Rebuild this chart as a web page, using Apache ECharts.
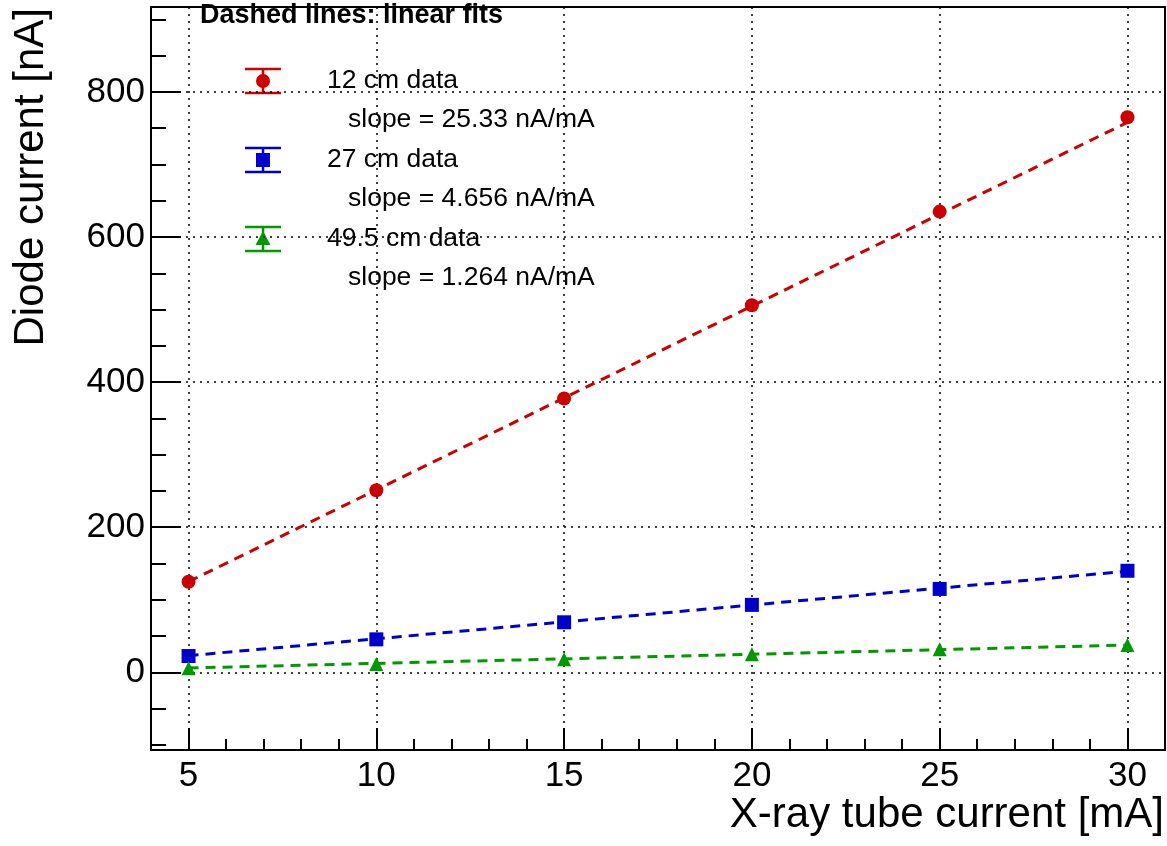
<!DOCTYPE html>
<html>
<head>
<meta charset="utf-8">
<script src="https://cdn.jsdelivr.net/npm/echarts@6/dist/echarts.min.js"></script>
<style>
html,body{margin:0;padding:0;background:#fff;}
#chart{width:1167px;height:846px;}
</style>
</head>
<body>
<div id="chart"></div>
<script>
// ---- data ----
const xValues = [5, 10, 15, 20, 25, 30];
const data12cm = [124.8, 251, 377.5, 506, 635, 765];
const data27cm = [22.5, 45.5, 69, 93, 115, 140];
const data49cm = [5.5, 11.4, 18, 25, 31.7, 37.6];
const fitX = [5, 30];
const fit12cm = [125, 758];
const fit27cm = [23, 139.4];
const fit49cm = [6, 37.6];
const xMajorTicks = [5, 10, 15, 20, 25, 30];
const xMinorTicks = [6, 7, 8, 9, 11, 12, 13, 14, 16, 17, 18, 19, 21, 22, 23, 24, 26, 27, 28, 29];
const yMajorTicks = [0, 200, 400, 600, 800];
const yMinorTicks = [-100, -50, 50, 100, 150, 250, 300, 350, 450, 500, 550, 650, 700, 750, 850, 900];
const legendLabels = ['12 cm data', '27 cm data', '49.5 cm data'];
const slopeLabels = ['slope = 25.33 nA/mA', 'slope = 4.656 nA/mA', 'slope = 1.264 nA/mA'];
const legendTitle = 'Dashed lines: linear fits';
const xTitle = 'X-ray tube current [mA]';
const yTitle = 'Diode current [nA]';

const colors = ['#cc0000', '#0000cc', '#009900'];
const symbols = ['circle', 'rect', 'triangle'];
const FONT = '"Liberation Sans", Arial, Helvetica, sans-serif';

const XMIN = 4, XMAX = 31, YMIN = -107, YMAX = 917;

const chart = echarts.init(document.getElementById('chart'), null, {renderer: 'canvas'});

function pairs(xs, ys) { return xs.map((x, i) => [x, ys[i]]); }

const dataSets = [data12cm, data27cm, data49cm];
const fitSets = [fit12cm, fit27cm, fit49cm];

const series = [];
fitSets.forEach((f, i) => {
  series.push({
    type: 'line', xAxisIndex: 0, yAxisIndex: 0,
    data: pairs(fitX, f), showSymbol: false, symbol: 'none',
    lineStyle: {color: colors[i], width: 3, type: [10, 7]},
    silent: true, animation: false, z: 3
  });
});
dataSets.forEach((d, i) => {
  series.push({
    type: 'scatter', xAxisIndex: 0, yAxisIndex: 0,
    data: pairs(xValues, d), symbol: symbols[i], symbolSize: 14,
    itemStyle: {color: colors[i], opacity: 1},
    silent: true, animation: false, z: 4
  });
});

// legend graphics
const legendCenters = [81, 160, 239];
const slopeCenters = [120, 199, 278];
const graphics = [];
graphics.push({type: 'text', x: 200, y: 16, style: {text: legendTitle, font: 'bold 27px ' + FONT, fill: '#000', verticalAlign: 'middle'}});
legendCenters.forEach((cy, i) => {
  const cx = 263, half = 18, eh = 12;
  const ls = {stroke: colors[i], lineWidth: 2.5};
  graphics.push({type: 'line', shape: {x1: cx - half, y1: cy - eh, x2: cx + half, y2: cy - eh}, style: ls});
  graphics.push({type: 'line', shape: {x1: cx - half, y1: cy + eh, x2: cx + half, y2: cy + eh}, style: ls});
  graphics.push({type: 'line', shape: {x1: cx, y1: cy - eh, x2: cx, y2: cy + eh}, style: ls});
  if (symbols[i] === 'circle') {
    graphics.push({type: 'circle', shape: {cx: cx, cy: cy, r: 7}, style: {fill: colors[i]}});
  } else if (symbols[i] === 'rect') {
    graphics.push({type: 'rect', shape: {x: cx - 7, y: cy - 7, width: 14, height: 14}, style: {fill: colors[i]}});
  } else {
    graphics.push({type: 'polygon', shape: {points: [[cx, cy - 8], [cx + 7.5, cy + 6], [cx - 7.5, cy + 6]]}, style: {fill: colors[i]}});
  }
  graphics.push({type: 'text', x: 327, y: cy, style: {text: legendLabels[i], font: '26.5px ' + FONT, fill: '#000', verticalAlign: 'middle', align: 'left'}});
  graphics.push({type: 'text', x: 348, y: slopeCenters[i], style: {text: slopeLabels[i], font: '26.5px ' + FONT, fill: '#000', verticalAlign: 'middle', align: 'left'}});
});
graphics.push({type: 'text', x: 1164, y: 815, style: {text: xTitle, font: '42px ' + FONT, fill: '#000', align: 'right', verticalAlign: 'middle'}});
graphics.push({type: 'text', x: 31, y: 8, rotation: Math.PI / 2, style: {text: yTitle, font: '42px ' + FONT, fill: '#000', align: 'right', verticalAlign: 'middle'}});

const gridLine = {show: true, lineStyle: {color: '#000', width: 1.5, type: [2, 5]}};

const option = {
  backgroundColor: '#fff',
  animation: false,
  grid: {left: 151, right: 2, top: 7, bottom: 96, show: true, borderColor: '#000', borderWidth: 2, backgroundColor: 'transparent', outerBoundsMode: 'none', containLabel: false},
  xAxis: [
    {type: 'value', min: XMIN, max: XMAX, position: 'bottom', gridIndex: 0,
     axisLine: {show: true, onZero: false, lineStyle: {color: '#000', width: 2}},
     axisTick: {show: true, inside: true, length: 22, customValues: xMajorTicks, lineStyle: {color: '#000', width: 2}},
     axisLabel: {show: true, customValues: xMajorTicks, margin: 9, fontSize: 35, fontFamily: FONT, color: '#000'},
     splitLine: gridLine},
    {type: 'value', min: XMIN, max: XMAX, position: 'bottom', gridIndex: 0,
     axisLine: {show: false, onZero: false},
     axisTick: {show: true, inside: true, length: 11, customValues: xMinorTicks, lineStyle: {color: '#000', width: 2}},
     axisLabel: {show: false}, splitLine: {show: false}}
  ],
  yAxis: [
    {type: 'value', min: YMIN, max: YMAX, position: 'left', gridIndex: 0,
     axisLine: {show: true, onZero: false, lineStyle: {color: '#000', width: 2}},
     axisTick: {show: true, inside: true, length: 30, customValues: yMajorTicks, lineStyle: {color: '#000', width: 2}},
     axisLabel: {show: true, customValues: yMajorTicks, margin: 6, fontSize: 35, fontFamily: FONT, color: '#000'},
     splitLine: gridLine},
    {type: 'value', min: YMIN, max: YMAX, position: 'left', gridIndex: 0,
     axisLine: {show: false, onZero: false},
     axisTick: {show: true, inside: true, length: 15, customValues: yMinorTicks, lineStyle: {color: '#000', width: 2}},
     axisLabel: {show: false}, splitLine: {show: false}}
  ],
  series: series,
  graphic: graphics
};
chart.setOption(option);
</script>
</body>
</html>
